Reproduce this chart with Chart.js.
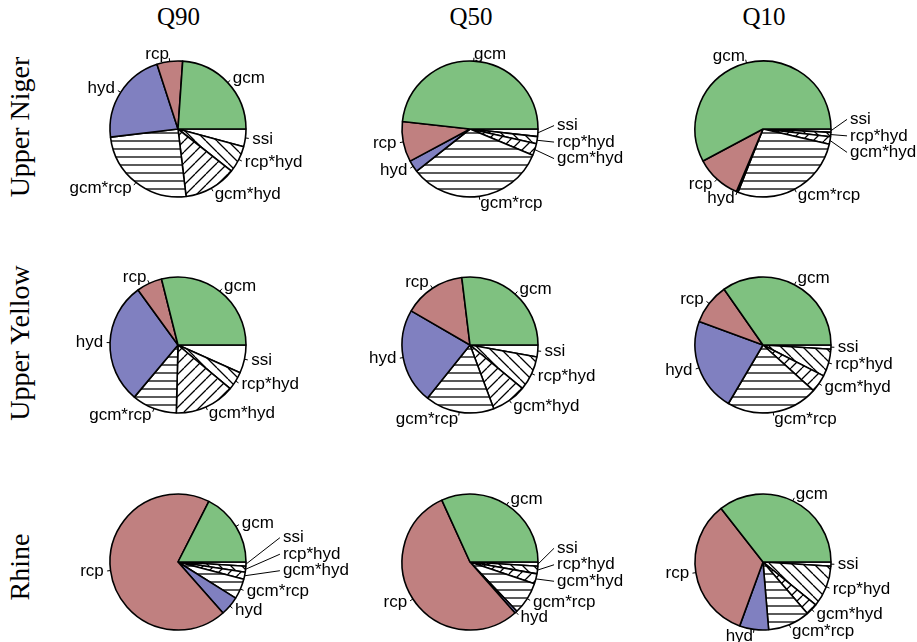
<!DOCTYPE html>
<html><head><meta charset="utf-8">
<script src="https://cdn.jsdelivr.net/npm/chart.js@4/dist/chart.umd.min.js"></script>
<style>
body{margin:0;background:#fff;width:917px;height:642px;position:relative;overflow:hidden}
canvas.pie{position:absolute}
.ttl{position:absolute;font-family:"Liberation Serif",serif;font-size:25px;color:#000;white-space:nowrap;transform:translate(-50%,-50%)}
.rowl{font-size:28px;transform:translate(-50%,-50%) rotate(-90deg)}
</style></head><body>
<script>
// variance components, R pie order (counter-clockwise from 3 o'clock), % of total
var categories = ['gcm','rcp','hyd','gcm*rcp','gcm*hyd','rcp*hyd','ssi'];
var columns = ['Q90','Q50','Q10'];
var rows = ['Upper Niger','Upper Yellow','Rhine'];

var upperNigerQ90 = [23.9, 6.1, 21.9, 25.0, 12.5, 6.4, 4.2];
var upperNigerQ50 = [48.3, 9.6, 2.8, 33.1, 2.8, 1.7, 1.8];
var upperNigerQ10 = [57.8, 10.8, 0.4, 27.4, 1.8, 1.0, 0.8];
var upperYellowQ90 = [28.9, 6.1, 28.9, 10.7, 14.3, 4.4, 6.7];
var upperYellowQ50 = [26.9, 14.7, 22.6, 16.4, 8.3, 8.2, 2.8];
var upperYellowQ10 = [34.7, 9.7, 22.1, 21.8, 4.2, 6.5, 1.0];
var rhineQ90 = [17.5, 69.0, 4.6, 4.8, 1.7, 1.4, 1.0];
var rhineQ50 = [31.8, 54.7, 0.6, 7.7, 2.4, 1.8, 1.0];
var rhineQ10 = [35.6, 33.9, 6.9, 10.0, 2.8, 9.9, 1.0];

var panels = [
  [upperNigerQ90, upperNigerQ50, upperNigerQ10],
  [upperYellowQ90, upperYellowQ50, upperYellowQ10],
  [rhineQ90, rhineQ50, rhineQ10]
];

// layout
var colX = [177.5, 470, 763];
var rowY = [128.5, 345, 562];
var R = 68, CW = 340, CH = 240;

function hatch(kind){
  var c = document.createElement('canvas');
  var s = kind === '-' ? 8 : 11;
  c.width = kind === '-' ? 16 : s; c.height = s;
  var x = c.getContext('2d');
  x.fillStyle = '#fff'; x.fillRect(0,0,c.width,c.height);
  x.strokeStyle = '#000'; x.lineWidth = 1.3; x.beginPath();
  if(kind === '-'){ x.moveTo(0,4); x.lineTo(16,4); }
  else [-s,0,s].forEach(function(k){
    if(kind === '/'){ x.moveTo(k,s); x.lineTo(k+s,0); }
    else { x.moveTo(k,0); x.lineTo(k+s,s); }
  });
  x.stroke();
  return x.createPattern(c,'repeat');
}

var fills = {
  'gcm':'#7FC180', 'rcp':'#C08080', 'hyd':'#8080C0',
  'gcm*rcp':hatch('-'), 'gcm*hyd':hatch('/'), 'rcp*hyd':hatch('\\'), 'ssi':'#ffffff'
};

var labelPlugin = {
  id:'pieLabels',
  afterDatasetsDraw:function(chart){
    var ctx = chart.ctx, meta = chart.getDatasetMeta(0), names = chart.data.labels;
    ctx.save();
    ctx.font = '17px "Liberation Sans", Arial, sans-serif';
    ctx.textBaseline = 'middle'; ctx.fillStyle = '#000'; ctx.strokeStyle = '#000'; ctx.lineWidth = 1;
    var items = meta.data.map(function(arc,i){
      var a = (arc.startAngle+arc.endAngle)/2, r = arc.outerRadius;
      var cos = Math.cos(a), sin = Math.sin(a);
      return {name:names[i], cx:arc.x, cy:arc.y, r:r, cos:cos, sin:sin,
        x:arc.x+1.1*r*cos, y:arc.y+1.1*r*sin, left:cos<0, w:ctx.measureText(names[i]).width, moved:false};
    });
    // spread crowded labels on the right side
    var right = items.filter(function(d){return !d.left}).sort(function(a,b){return a.y-b.y});
    var clusters = [], cur = [right[0]];
    for(var i=1;i<right.length;i++){
      if(right[i].y-right[i-1].y < 13) cur.push(right[i]); else { clusters.push(cur); cur=[right[i]]; }
    }
    clusters.push(cur);
    clusters.forEach(function(cl,k){
      if(cl.length < 2) return;
      var mean = cl.reduce(function(s,d){return s+d.y},0)/cl.length;
      cl.forEach(function(d,j){ d.y = mean + (j-(cl.length-1)/2)*16.5; d.moved = true; });
      var below = clusters[k+1] && clusters[k+1][0];
      if(below){ var gap = below.y - cl[cl.length-1].y; if(gap < 21) cl.forEach(function(d){ d.y -= 21-gap; }); }
      var x = cl[0].cx + 1.28*cl[0].r;
      var above = clusters[k-1] && clusters[k-1][clusters[k-1].length-1];
      if(above && cl[0].y - above.y < 18) x = Math.max(x, above.x + above.w + 9);
      cl.forEach(function(d){ d.x = x; });
    });
    items.forEach(function(d){
      ctx.beginPath();
      ctx.moveTo(d.cx+d.r*d.cos, d.cy+d.r*d.sin);
      if(d.moved) ctx.lineTo(d.x-3, d.y);
      else ctx.lineTo(d.cx+1.05*d.r*d.cos, d.cy+1.05*d.r*d.sin);
      ctx.stroke();
      ctx.textAlign = d.left ? 'right' : 'left';
      ctx.fillText(d.name, d.x, d.y);
    });
    ctx.restore();
  }
};

function addText(txt, x, y, cls){
  var el = document.createElement('div');
  el.className = cls; el.textContent = txt;
  el.style.left = x+'px'; el.style.top = y+'px';
  document.body.appendChild(el);
}

columns.forEach(function(c,j){ addText(c, colX[j]+1, 17, 'ttl'); });
rows.forEach(function(r,i){ addText(r, 20, rowY[i] + (i===2?5:-2), 'ttl rowl'); });

panels.forEach(function(row,i){
  row.forEach(function(vals,j){
    var cv = document.createElement('canvas');
    cv.className = 'pie'; cv.width = CW; cv.height = CH;
    cv.style.left = (colX[j]-CW/2)+'px'; cv.style.top = (rowY[i]-CH/2)+'px';
    document.body.appendChild(cv);
    // Chart.js goes clockwise, R goes counter-clockwise: reverse order
    var labs = categories.slice().reverse();
    var data = vals.slice().reverse();
    new Chart(cv, {
      type:'pie',
      data:{labels:labs, datasets:[{data:data, backgroundColor:labs.map(function(l){return fills[l]}),
        borderColor:'#000', borderWidth:1.6, radius:R, hoverOffset:0, offset:0}]},
      options:{responsive:false, animation:false, events:[], rotation:90,
        layout:{padding:0},
        plugins:{legend:{display:false}, tooltip:{enabled:false}}},
      plugins:[labelPlugin]
    });
  });
});
</script>
</body></html>
